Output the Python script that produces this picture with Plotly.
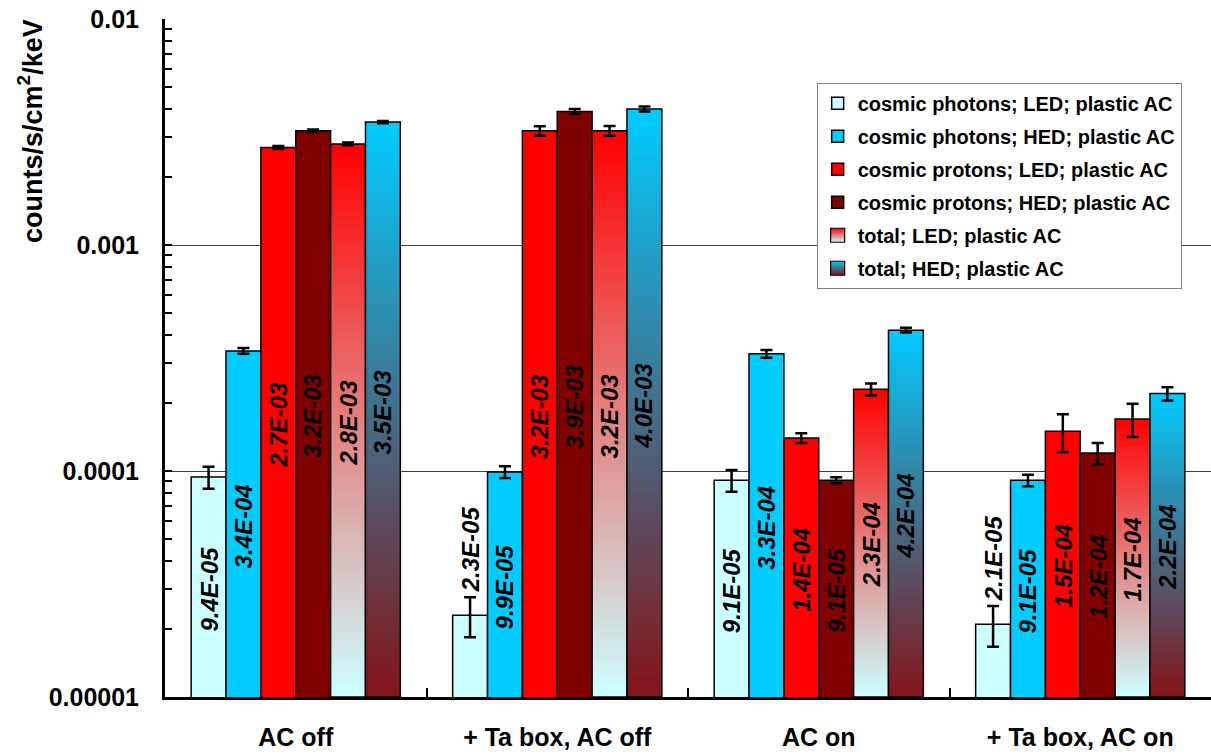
import numpy as np
import plotly.graph_objects as go

# ---------------- data ----------------
groups = ["AC off", "+ Ta box, AC off", "AC on", "+ Ta box, AC on"]

photons_led = [9.4e-5, 2.3e-5, 9.1e-5, 2.1e-5]
photons_led_err = [1.05e-5, 4.6e-6, 1.0e-5, 4.3e-6]
photons_hed = [3.4e-4, 9.9e-5, 3.3e-4, 9.1e-5]
photons_hed_err = [1.0e-5, 6.0e-6, 1.3e-5, 5.3e-6]
protons_led = [2.7e-3, 3.2e-3, 1.4e-4, 1.5e-4]
protons_led_err = [4.0e-5, 1.5e-4, 7.0e-6, 2.85e-5]
protons_hed = [3.2e-3, 3.9e-3, 9.1e-5, 1.2e-4]
protons_hed_err = [4.0e-5, 1.0e-4, 2.8e-6, 1.3e-5]
total_led = [2.8e-3, 3.2e-3, 2.3e-4, 1.7e-4]
total_led_err = [4.0e-5, 1.6e-4, 1.4e-5, 2.85e-5]
total_hed = [3.5e-3, 4.0e-3, 4.2e-4, 2.2e-4]
total_hed_err = [4.0e-5, 1.0e-4, 1.0e-5, 1.5e-5]

y_ticks = [1e-5, 1e-4, 1e-3, 1e-2]
y_ticktext = ["0.00001", "0.0001", "0.001", "0.01"]

# ---------------- style ----------------
FONT = "Liberation Sans, Arial, sans-serif"
Y_LOG_RANGE = [-5, -2]
BARGAP = 0.2

solid_series = [
    ("cosmic photons; LED; plastic AC", photons_led, photons_led_err, "#CCFFFF"),
    ("cosmic photons; HED; plastic AC", photons_hed, photons_hed_err, "#00CCFF"),
    ("cosmic protons; LED; plastic AC", protons_led, protons_led_err, "#FF0000"),
    ("cosmic protons; HED; plastic AC", protons_hed, protons_hed_err, "#800000"),
]
# (name, values, errors, bottom colour, top colour)
gradient_series = [
    ("total; LED; plastic AC", total_led, total_led_err, "#CCFFFF", "#FF0000"),
    ("total; HED; plastic AC", total_hed, total_hed_err, "#841418", "#00CCFF"),
]

n_slots = len(solid_series) + len(gradient_series)
slot_w = (1 - BARGAP) / n_slots
xg = np.arange(len(groups))


def slot_center(i, k):
    return i - (1 - BARGAP) / 2 + (k + 0.5) * slot_w


fig = go.Figure()

rank = 1
for name, vals, errs, color in solid_series:
    fig.add_trace(go.Bar(
        x=xg, y=vals, name=name, legendgroup=name, legendrank=rank,
        marker=dict(color=color, line=dict(color="black", width=1.5)),
        error_y=dict(type="data", array=errs, color="black", thickness=2.5, width=6),
        hoverinfo="x+y",
    ))
    rank += 1

# placeholder bars reserving the slots of the gradient-filled series
for name, vals, errs, cb, ct in gradient_series:
    fig.add_trace(go.Bar(
        x=xg, y=vals, showlegend=False, hoverinfo="skip", legendgroup=name,
        marker=dict(color="rgba(0,0,0,0)", line=dict(width=0)),
    ))

ybot = 10 ** Y_LOG_RANGE[0]
for s, (name, vals, errs, cb, ct) in enumerate(gradient_series):
    k = len(solid_series) + s
    for i, v in enumerate(vals):
        c = slot_center(i, k)
        x0, x1 = c - slot_w / 2, c + slot_w / 2
        fig.add_trace(go.Scatter(
            x=[x0, x0, x1, x1, x0], y=[ybot, v, v, ybot, ybot],
            mode="lines", fill="toself",
            fillgradient=dict(type="vertical", colorscale=[[0, cb], [1, ct]]),
            line=dict(color="black", width=1.5),
            legendgroup=name, showlegend=False, hoverinfo="skip",
        ))
    # legend swatch for the gradient series
    fig.add_trace(go.Scatter(
        x=[None], y=[None], mode="markers", name=name, legendgroup=name, legendrank=rank,
        marker=dict(symbol="square", size=14, color=ct,
                    gradient=dict(type="vertical", color=cb),
                    line=dict(color="black", width=1.2)),
        showlegend=True, hoverinfo="skip",
    ))
    rank += 1

for s, (name, vals, errs, cb, ct) in enumerate(gradient_series):
    k = len(solid_series) + s
    fig.add_trace(go.Scatter(
        x=[slot_center(i, k) for i in range(len(vals))], y=vals,
        mode="markers", marker=dict(size=1, color="rgba(0,0,0,0)"),
        error_y=dict(type="data", array=errs, color="black", thickness=2.5, width=6),
        legendgroup=name, showlegend=False, hoverinfo="skip",
    ))

# value labels
annotations = []
all_series = [v for _, v, _, _ in solid_series] + [v for _, v, _, _, _ in gradient_series]
for k, vals in enumerate(all_series):
    for i, v in enumerate(vals):
        lv = np.log10(v)
        txt = f"{v:.1E}"
        if lv - Y_LOG_RANGE[0] > 0.45:
            ann = dict(x=slot_center(i, k), y=(lv + Y_LOG_RANGE[0]) / 2, yanchor="middle", yshift=-2)
        else:
            ann = dict(x=slot_center(i, k), y=lv, yanchor="bottom", yshift=21)
        ann.update(text=txt, xref="x", yref="y", showarrow=False, textangle=-90,
                   xanchor="center",
                   font=dict(family=FONT, size=24, color="black", weight="bold", style="italic"))
        annotations.append(ann)

annotations.append(dict(
    text="counts/s/cm<sup>2</sup>/keV", xref="paper", yref="paper",
    x=-0.129, y=0.835, xanchor="center", yanchor="middle", showarrow=False,
    textangle=-90, font=dict(family=FONT, size=27, color="black", weight="bold"),
))

fig.update_layout(
    width=1211, height=755,
    margin=dict(l=165, r=0, t=19, b=58, autoexpand=False),
    paper_bgcolor="white", plot_bgcolor="white",
    barmode="group", bargap=BARGAP, bargroupgap=0,
    font=dict(family=FONT, color="black"),
    annotations=annotations,
    legend=dict(
        x=0.623, y=0.906, xanchor="left", yanchor="top",
        font=dict(family=FONT, size=20, color="black", weight="bold"),
        bgcolor="white", bordercolor="#808080", borderwidth=1,
        traceorder="grouped", tracegroupgap=4,
    ),
    xaxis=dict(
        range=[-0.5, len(groups) - 0.5], tickmode="array", tickvals=xg, ticktext=groups,
        ticks="", showgrid=False, zeroline=False, automargin=False,
        showline=True, linecolor="black", linewidth=3,
        tickfont=dict(family=FONT, size=25, color="black", weight="bold"),
        ticklabelstandoff=16,
        minor=dict(tickmode="array", tickvals=list(xg[:-1] + 0.5), ticks="inside",
                   ticklen=9, tickwidth=2, tickcolor="black", showgrid=False),
    ),
    yaxis=dict(
        type="log", range=Y_LOG_RANGE, tickmode="array", tickvals=y_ticks, ticktext=y_ticktext,
        ticks="inside", ticklen=7, tickwidth=1.5, tickcolor="black", automargin=False,
        showgrid=True, gridcolor="#404040", gridwidth=1, zeroline=False,
        showline=True, linecolor="black", linewidth=3,
        tickfont=dict(family=FONT, size=25, color="black", weight="bold"),
        ticklabelstandoff=18,
        minor=dict(dtick="D1", ticks="inside", ticklen=7, tickwidth=1.5, tickcolor="black",
                   showgrid=False),
    ),
)

fig.write_html("out.html")
